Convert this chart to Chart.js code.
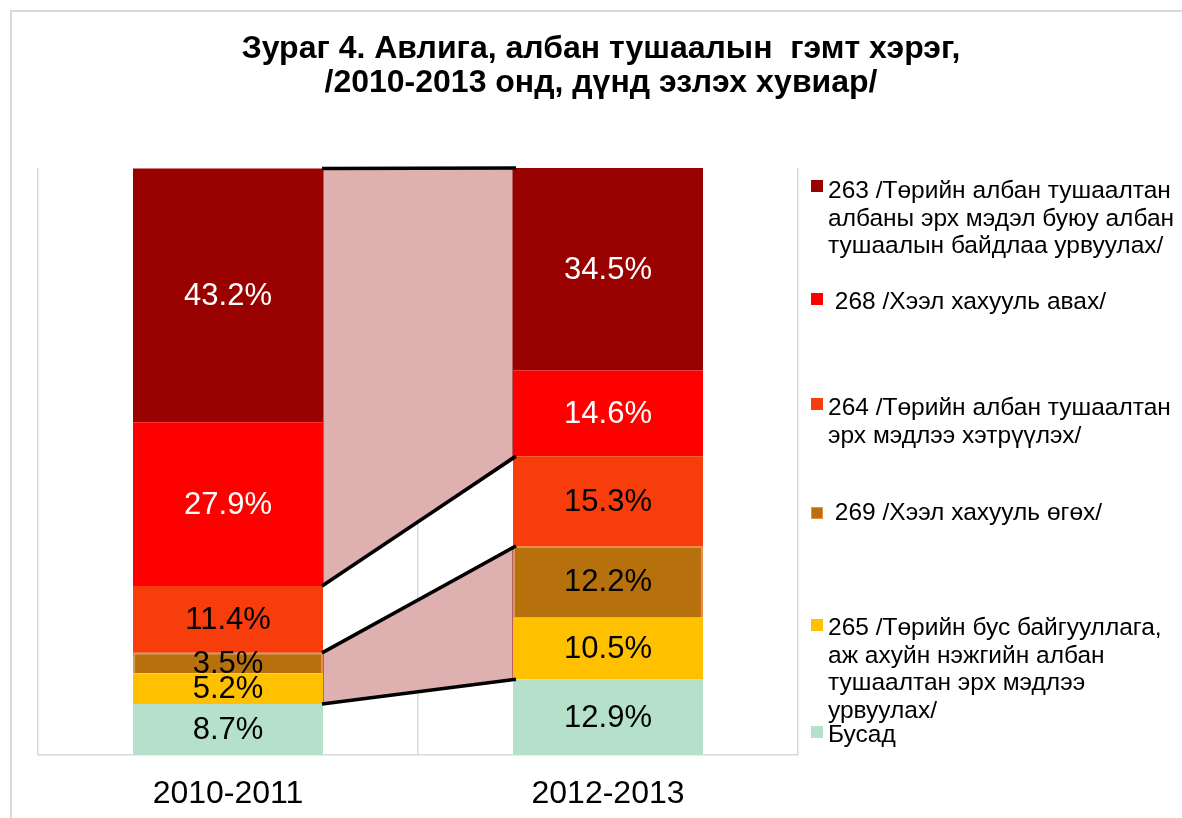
<!DOCTYPE html>
<html><head><meta charset="utf-8">
<script src="https://cdn.jsdelivr.net/npm/chart.js@4.4.0/dist/chart.umd.min.js"></script>
<style>
html,body{margin:0;padding:0;background:#fff;}
#wrap{position:relative;width:1182px;height:818px;overflow:hidden;font-family:"Liberation Sans",Arial,sans-serif;background:#fff;}
#frame{position:absolute;left:10px;top:10px;width:1200px;height:900px;border-left:2px solid #d9d9d9;border-top:2px solid #d9d9d9;}
#title{position:absolute;left:20px;width:1162px;top:30px;text-align:center;font-weight:bold;font-size:32px;line-height:34px;color:#000;white-space:pre;}
canvas{position:absolute;left:0;top:0;}
.leg{position:absolute;font-size:24.5px;line-height:27.5px;color:#000;white-space:pre;}
.mk{position:absolute;width:12px;height:12px;box-sizing:border-box;}
</style>
</head><body>
<div id="wrap">
  <div id="frame"></div>
  <canvas id="c" width="1182" height="818"></canvas>
  <div id="title"></div>
  <div id="legend"></div>
</div>
<script>
// ---- data ----
const categories = ['2010-2011', '2012-2013'];
const titleLines = ['Зураг 4. Авлига, албан тушаалын  гэмт хэрэг,', '/2010-2013 онд, дүнд эзлэх хувиар/'];
// series, bottom of stack first
const busad = [8.7, 12.9];
const s265 = [5.2, 10.5];
const s269 = [3.5, 12.2];
const s264 = [11.4, 15.3];
const s268 = [27.9, 14.6];
const s263 = [43.2, 34.5];
const labelsBusad = ['Бусад'];
const labels265 = ['265 /Төрийн бус байгууллага,', 'аж ахуйн нэжгийн албан', 'тушаалтан эрх мэдлээ', 'урвуулах/'];
const labels269 = [' 269 /Хээл хахууль өгөх/'];
const labels264 = ['264 /Төрийн албан тушаалтан', 'эрх мэдлээ хэтрүүлэх/'];
const labels268 = [' 268 /Хээл хахууль авах/'];
const labels263 = ['263 /Төрийн албан тушаалтан', 'албаны эрх мэдэл буюу албан', 'тушаалын байдлаа урвуулах/'];

// ---- styles ----
const FONT = '"Liberation Sans", Arial, sans-serif';
const series = [
  {lines: labelsBusad, data: busad, color: '#B5E0CA', text: '#000'},
  {lines: labels265, data: s265, color: '#FFC000', text: '#000'},
  {lines: labels269, data: s269, color: '#B7710C', text: '#000', border: '#F4874B'},
  {lines: labels264, data: s264, color: '#F63D0B', text: '#000'},
  {lines: labels268, data: s268, color: '#FF0000', text: '#fff'},
  {lines: labels263, data: s263, color: '#990000', text: '#fff'}
];
// legend placement (first-line centre y, marker centre y), listed top to bottom
const legendLayout = [
  {idx: 5, textY: 191, markY: 186},
  {idx: 4, textY: 302, markY: 299},
  {idx: 3, textY: 408, markY: 404},
  {idx: 2, textY: 513, markY: 513},
  {idx: 1, textY: 628, markY: 625},
  {idx: 0, textY: 735, markY: 732}
];

document.getElementById('title').textContent = titleLines.join('\n');
const legEl = document.getElementById('legend');
legendLayout.forEach(l => {
  const s = series[l.idx];
  const mk = document.createElement('div');
  mk.className = 'mk';
  mk.style.left = '811px';
  mk.style.top = (l.markY - 6) + 'px';
  mk.style.background = s.color;
  if (s.border) mk.style.border = '1.5px solid ' + s.border;
  legEl.appendChild(mk);
  const t = document.createElement('div');
  t.className = 'leg';
  t.style.left = '828px';
  t.style.top = (l.textY - 15) + 'px';
  t.textContent = s.lines.join('\n');
  legEl.appendChild(t);
});

const connectorPlugin = {
  id: 'connectors',
  beforeDatasetsDraw(chart) {
    const ctx = chart.ctx;
    const m = i => chart.getDatasetMeta(i).data;
    const L = m(0)[0], R = m(0)[1];
    const xl = L.x + L.width / 2, xr = R.x - R.width / 2;
    const fills = [
      [m(5), m(4)],
      [m(2), m(1)]
    ];
    ctx.save();
    fills.forEach(([topEls, botEls]) => {
      ctx.beginPath();
      ctx.moveTo(xl, topEls[0].y);
      ctx.lineTo(xr, topEls[1].y);
      ctx.lineTo(xr, botEls[1].base);
      ctx.lineTo(xl, botEls[0].base);
      ctx.closePath();
      ctx.fillStyle = '#DEB0B0';
      ctx.fill();
      ctx.strokeStyle = '#8B1010';
      ctx.lineWidth = 1;
      ctx.stroke();
    });
    ctx.restore();
  },
  afterDatasetsDraw(chart) {
    const ctx = chart.ctx;
    const m = i => chart.getDatasetMeta(i).data;
    const L = m(0)[0], R = m(0)[1];
    const xl = L.x + L.width / 2, xr = R.x - R.width / 2;
    const ys = [
      [m(5)[0].y, m(5)[1].y],
      [m(3)[0].y, m(3)[1].y],
      [m(2)[0].y, m(2)[1].y],
      [m(0)[0].y, m(0)[1].y]
    ];
    ctx.save();
    ctx.strokeStyle = '#000';
    ctx.lineWidth = 3.5;
    ys.forEach(([a, b]) => {
      ctx.beginPath();
      ctx.moveTo(xl - 1, a);
      ctx.lineTo(xr + 3, b);
      ctx.stroke();
    });
    // value labels
    ctx.font = '31px ' + FONT;
    ctx.textAlign = 'center';
    ctx.textBaseline = 'middle';
    chart.data.datasets.forEach((ds, i) => {
      chart.getDatasetMeta(i).data.forEach((el, j) => {
        ctx.fillStyle = series[i].text;
        ctx.fillText(ds.data[j].toFixed(1) + '%', el.x, (el.y + el.base) / 2 + 1);
      });
    });
    ctx.restore();
  }
};

new Chart(document.getElementById('c'), {
  type: 'bar',
  data: {
    labels: categories,
    datasets: series.map(s => ({
      label: s.lines.join(' ').trim(),
      data: s.data,
      backgroundColor: s.color,
      borderColor: s.border || s.color,
      borderWidth: s.border ? 1.5 : 0,
      categoryPercentage: 0.5,
      barPercentage: 1.0
    }))
  },
  options: {
    responsive: false,
    animation: false,
    devicePixelRatio: 1,
    layout: {padding: {left: 38, right: 384, top: 168, bottom: 6}},
    plugins: {legend: {display: false}, title: {display: false}, tooltip: {enabled: false}},
    scales: {
      x: {
        stacked: true,
        grid: {color: '#d9d9d9', lineWidth: 1.5, drawTicks: false},
        border: {color: '#d9d9d9', width: 1.5},
        ticks: {color: '#000', padding: 20, maxRotation: 0, autoSkip: false, font: {size: 32, family: FONT}},
        afterFit(scale) { scale.height = 57; }
      },
      y: {stacked: true, min: 0, max: 100, display: false}
    }
  },
  plugins: [connectorPlugin]
});
</script>
</body></html>
